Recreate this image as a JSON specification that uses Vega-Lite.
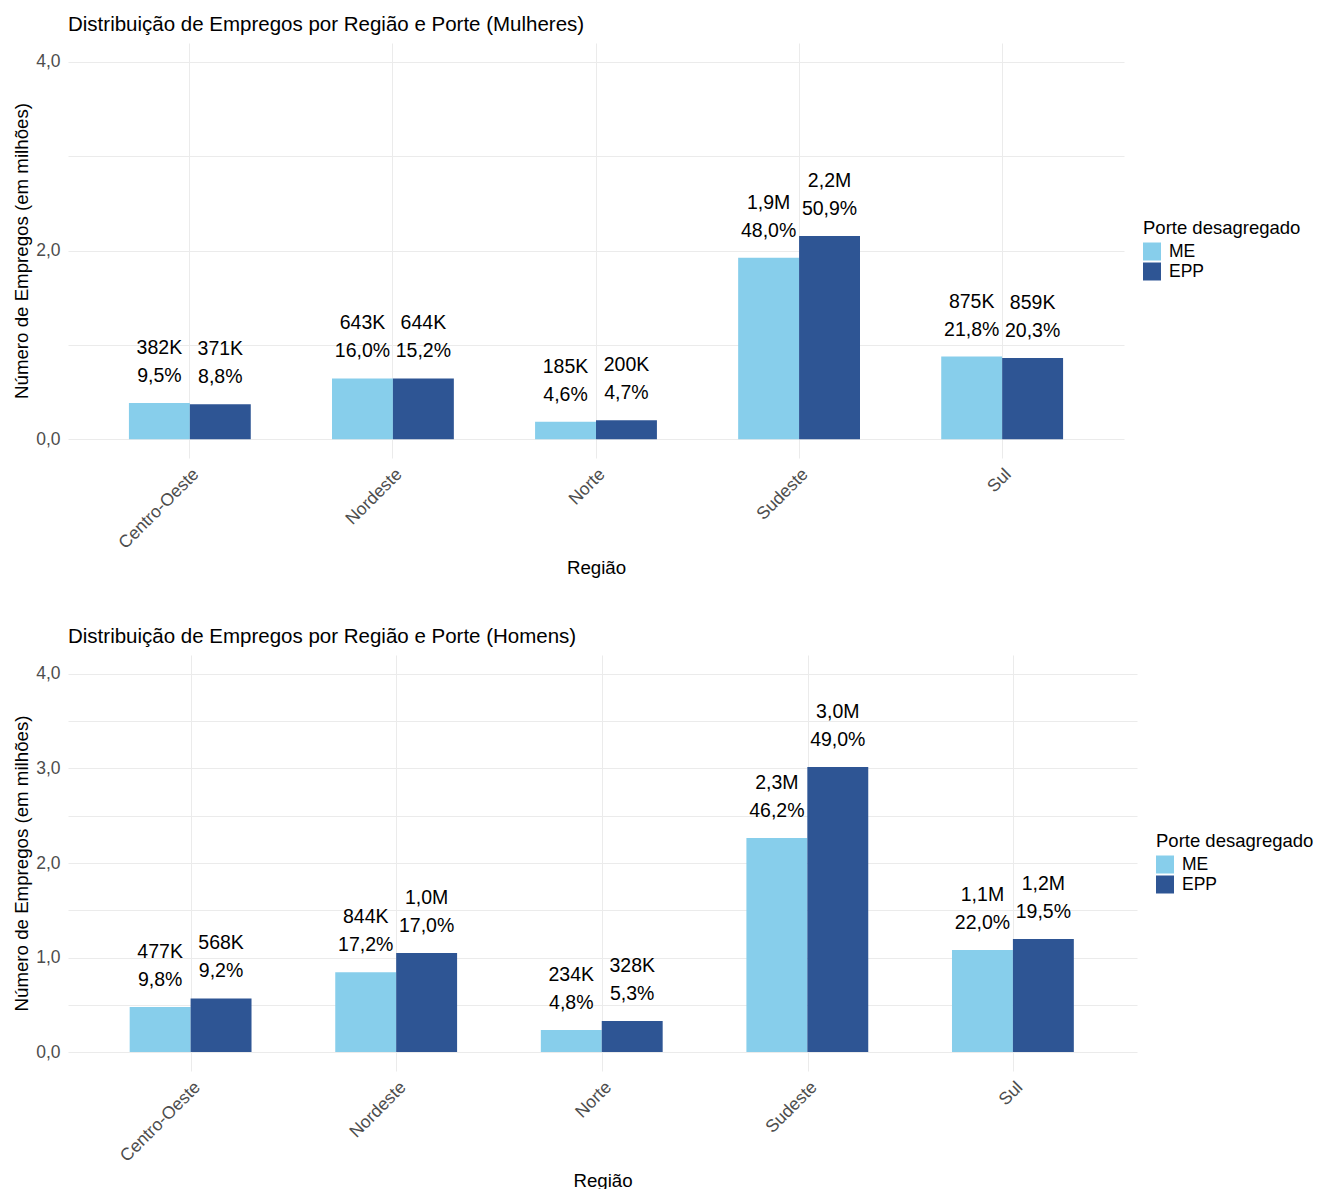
{
  "$schema": "https://vega.github.io/schema/vega-lite/v6.json",
  "background": "white",
  "padding": {"left": 12, "top": 14, "right": 0, "bottom": 0},
  "spacing": 48,
  "datasets": {
    "mulheres": [
      {"regiao": "Centro-Oeste", "porte": "ME", "valor": 0.382, "rotulo": "382K", "pct": "9,5%"},
      {"regiao": "Centro-Oeste", "porte": "EPP", "valor": 0.371, "rotulo": "371K", "pct": "8,8%"},
      {"regiao": "Nordeste", "porte": "ME", "valor": 0.643, "rotulo": "643K", "pct": "16,0%"},
      {"regiao": "Nordeste", "porte": "EPP", "valor": 0.644, "rotulo": "644K", "pct": "15,2%"},
      {"regiao": "Norte", "porte": "ME", "valor": 0.185, "rotulo": "185K", "pct": "4,6%"},
      {"regiao": "Norte", "porte": "EPP", "valor": 0.2, "rotulo": "200K", "pct": "4,7%"},
      {"regiao": "Sudeste", "porte": "ME", "valor": 1.922, "rotulo": "1,9M", "pct": "48,0%"},
      {"regiao": "Sudeste", "porte": "EPP", "valor": 2.154, "rotulo": "2,2M", "pct": "50,9%"},
      {"regiao": "Sul", "porte": "ME", "valor": 0.875, "rotulo": "875K", "pct": "21,8%"},
      {"regiao": "Sul", "porte": "EPP", "valor": 0.859, "rotulo": "859K", "pct": "20,3%"}
    ],
    "homens": [
      {"regiao": "Centro-Oeste", "porte": "ME", "valor": 0.477, "rotulo": "477K", "pct": "9,8%"},
      {"regiao": "Centro-Oeste", "porte": "EPP", "valor": 0.568, "rotulo": "568K", "pct": "9,2%"},
      {"regiao": "Nordeste", "porte": "ME", "valor": 0.844, "rotulo": "844K", "pct": "17,2%"},
      {"regiao": "Nordeste", "porte": "EPP", "valor": 1.048, "rotulo": "1,0M", "pct": "17,0%"},
      {"regiao": "Norte", "porte": "ME", "valor": 0.234, "rotulo": "234K", "pct": "4,8%"},
      {"regiao": "Norte", "porte": "EPP", "valor": 0.328, "rotulo": "328K", "pct": "5,3%"},
      {"regiao": "Sudeste", "porte": "ME", "valor": 2.265, "rotulo": "2,3M", "pct": "46,2%"},
      {"regiao": "Sudeste", "porte": "EPP", "valor": 3.016, "rotulo": "3,0M", "pct": "49,0%"},
      {"regiao": "Sul", "porte": "ME", "valor": 1.079, "rotulo": "1,1M", "pct": "22,0%"},
      {"regiao": "Sul", "porte": "EPP", "valor": 1.196, "rotulo": "1,2M", "pct": "19,5%"}
    ]
  },
  "config": {
    "font": "Liberation Sans",
    "view": {"stroke": null},
    "axis": {
      "domain": false,
      "ticks": false,
      "gridColor": "#EBEBEB",
      "gridWidth": 1,
      "labelFont": "Liberation Sans",
      "titleFont": "Liberation Sans",
      "labelColor": "#4D4D4D",
      "labelFontSize": 17.5,
      "titleFontSize": 18.7,
      "titleColor": "#000000",
      "titleFontWeight": "normal"
    },
    "legend": {
      "orient": "none",
      "titleFont": "Liberation Sans",
      "labelFont": "Liberation Sans",
      "titleFontSize": 18.5,
      "labelFontSize": 17.5,
      "titleFontWeight": "normal",
      "titleColor": "#000000",
      "labelColor": "#000000",
      "symbolType": "square",
      "symbolSize": 324,
      "symbolStrokeWidth": 0,
      "symbolOpacity": 1,
      "labelOffset": 8,
      "rowPadding": 2,
      "titlePadding": 5
    },
    "title": {
      "font": "Liberation Sans",
      "fontSize": 20.5,
      "fontWeight": "normal",
      "color": "#000000",
      "anchor": "start",
      "frame": "group",
      "offset": 8
    }
  },
  "resolve": {"scale": {"color": "independent"}, "legend": {"color": "independent"}},
  "vconcat": [
    {
      "title": "Distribuição de Empregos por Região e Porte (Mulheres)",
      "width": 1056,
      "height": 415,
      "data": {"name": "mulheres"},
      "encoding": {
        "x": {
          "field": "regiao", "type": "nominal",
          "sort": ["Centro-Oeste", "Nordeste", "Norte", "Sudeste", "Sul"],
          "scale": {"paddingInner": 0.4, "paddingOuter": 0.3},
          "axis": {"title": "Região", "labelAngle": -45, "labelAlign": "right", "labelBaseline": "top", "grid": true, "bandPosition": 0.5, "labelPadding": 7, "titlePadding": 7}
        },
        "xOffset": {"field": "porte", "type": "nominal", "sort": ["ME", "EPP"]},
        "y": {
          "field": "valor", "type": "quantitative",
          "scale": {"domain": [-0.2, 4.2], "nice": false, "zero": false},
          "axis": {"title": "Número de Empregos (em milhões)", "values": [0, 1, 2, 3, 4], "labelExpr": "datum.value % 2 == 0 ? replace(format(datum.value, '.1f'), '.', ',') : ''", "labelPadding": 8, "titlePadding": 4, "grid": true}
        }
      },
      "layer": [
        {
          "mark": {"type": "bar"},
          "encoding": {
            "color": {
              "field": "porte", "type": "nominal",
              "scale": {"domain": ["ME", "EPP"], "range": ["#87CEEB", "#2E5594"]},
              "legend": {"title": "Porte desagregado", "legendX": 1075, "legendY": 176}
            }
          }
        },
        {
          "mark": {"type": "text", "dy": -21, "fontSize": 19.5, "color": "#000000", "baseline": "alphabetic", "align": "center"},
          "encoding": {"text": {"field": "pct"}}
        },
        {
          "mark": {"type": "text", "dy": -49, "fontSize": 19.5, "color": "#000000", "baseline": "alphabetic", "align": "center"},
          "encoding": {"text": {"field": "rotulo"}}
        }
      ]
    },
    {
      "title": "Distribuição de Empregos por Região e Porte (Homens)",
      "width": 1069,
      "height": 416,
      "data": {"name": "homens"},
      "encoding": {
        "x": {
          "field": "regiao", "type": "nominal",
          "sort": ["Centro-Oeste", "Nordeste", "Norte", "Sudeste", "Sul"],
          "scale": {"paddingInner": 0.4, "paddingOuter": 0.3},
          "axis": {"title": "Região", "labelAngle": -45, "labelAlign": "right", "labelBaseline": "top", "grid": true, "bandPosition": 0.5, "labelPadding": 7, "titlePadding": 7}
        },
        "xOffset": {"field": "porte", "type": "nominal", "sort": ["ME", "EPP"]},
        "y": {
          "field": "valor", "type": "quantitative",
          "scale": {"domain": [-0.2, 4.2], "nice": false, "zero": false},
          "axis": {"title": "Número de Empregos (em milhões)", "values": [0, 0.5, 1, 1.5, 2, 2.5, 3, 3.5, 4], "labelExpr": "datum.value % 1 == 0 ? replace(format(datum.value, '.1f'), '.', ',') : ''", "labelPadding": 8, "titlePadding": 4, "grid": true}
        }
      },
      "layer": [
        {
          "mark": {"type": "bar"},
          "encoding": {
            "color": {
              "field": "porte", "type": "nominal",
              "scale": {"domain": ["ME", "EPP"], "range": ["#87CEEB", "#2E5594"]},
              "legend": {"title": "Porte desagregado", "legendX": 1088, "legendY": 177}
            }
          }
        },
        {
          "mark": {"type": "text", "dy": -21, "fontSize": 19.5, "color": "#000000", "baseline": "alphabetic", "align": "center"},
          "encoding": {"text": {"field": "pct"}}
        },
        {
          "mark": {"type": "text", "dy": -49, "fontSize": 19.5, "color": "#000000", "baseline": "alphabetic", "align": "center"},
          "encoding": {"text": {"field": "rotulo"}}
        }
      ]
    }
  ]
}
